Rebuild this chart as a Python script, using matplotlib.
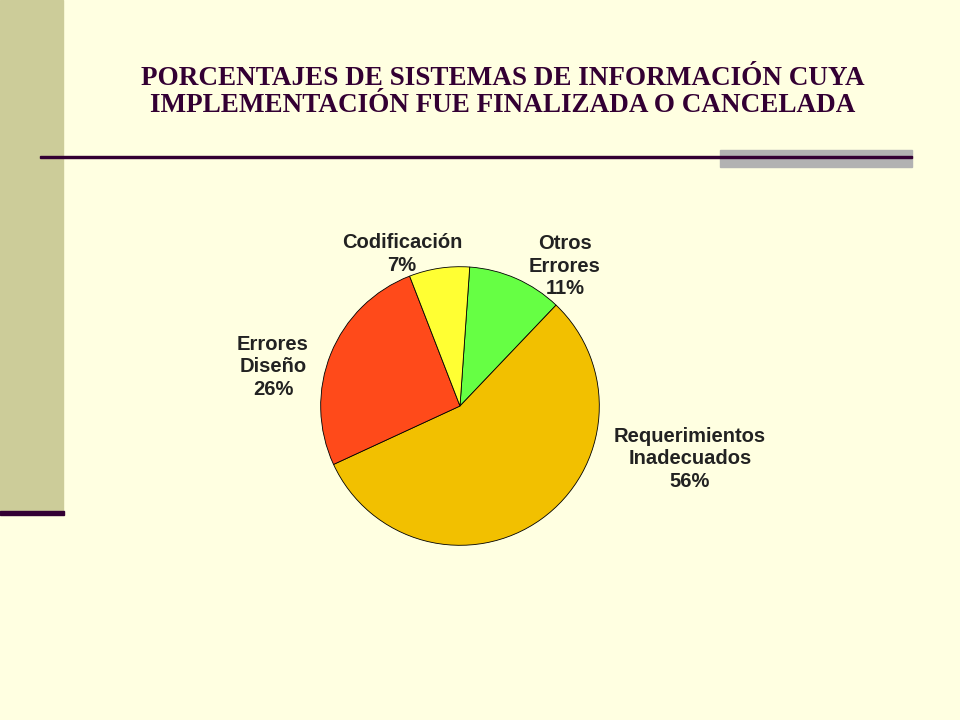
import matplotlib
matplotlib.use("Agg")
import matplotlib.pyplot as plt
from matplotlib.patches import Rectangle

categories = ["Otros\nErrores", "Requerimientos\nInadecuados", "Errores\nDiseño", "Codificación"]
values = [11, 56, 26, 7]
colors = ["#66FF44", "#F2C000", "#FF4A1A", "#FFFF33"]
label_pos = [(565, 266), (690, 459), (273, 367), (402, 254)]  # pixel positions of label centres

W, H = 960, 720
fig = plt.figure(figsize=(9.6, 7.2), dpi=100, facecolor="#FFFFE1")

def fx(x): return x / W
def fy(y): return 1 - y / H

fig.patches.append(Rectangle((0, fy(512)), fx(63), 1 - fy(512), transform=fig.transFigure, color="#CCCC99", zorder=0))
fig.patches.append(Rectangle((0, fy(515)), fx(64), 4 / H, transform=fig.transFigure, color="#330033", zorder=1))
fig.patches.append(Rectangle((fx(720), fy(167)), fx(192), 17 / H, transform=fig.transFigure, color="#B2B2B2", zorder=1))
fig.patches.append(Rectangle((fx(40), fy(158)), fx(872), 2 / H, transform=fig.transFigure, color="#330033", zorder=2))

fig.text(fx(503), fy(92), "PORCENTAJES DE SISTEMAS DE INFORMACIÓN CUYA\nIMPLEMENTACIÓN FUE FINALIZADA O CANCELADA",
         ha="center", va="center", fontsize=19.5, fontweight="bold", family="Liberation Serif",
         color="#330033", linespacing=1.1)

ax = fig.add_axes([fx(320), fy(546), 280 / W, 280 / H])
ax.pie(values, colors=colors, startangle=86, counterclock=False, radius=1,
       wedgeprops=dict(edgecolor="black", linewidth=0.6))
ax.set_xlim(-1.005, 1.005)
ax.set_ylim(-1.005, 1.005)
ax.set_aspect("equal")

for cat, v, (x, y) in zip(categories, values, label_pos):
    fig.text(fx(x), fy(y), f"{cat}\n{v}%", ha="center", va="center", fontsize=14.5,
             fontweight="bold", family="Liberation Sans", color="#222222", linespacing=1.25)

fig.savefig("out.png", dpi=100, facecolor=fig.get_facecolor())
